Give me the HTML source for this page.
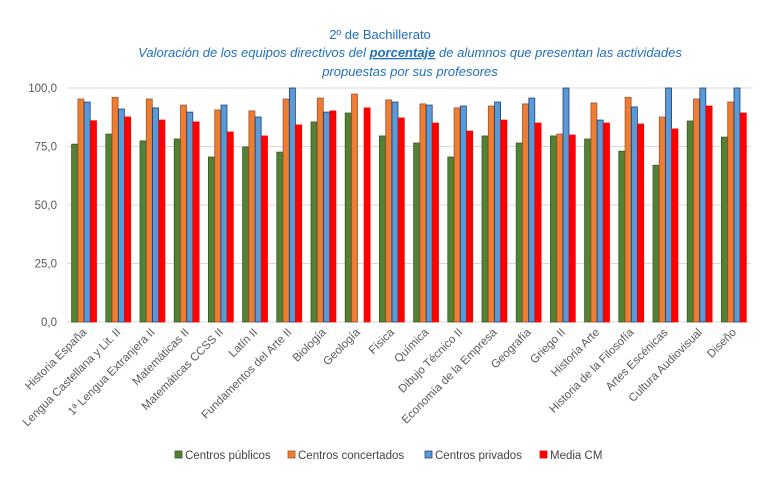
<!DOCTYPE html>
<html><head><meta charset="utf-8"><style>
body{margin:0;background:#fff;}
svg{font-family:"Liberation Sans",sans-serif;}
</style></head><body>
<svg id="chart" width="761" height="476">
<text x="380" y="39" text-anchor="middle" font-size="13" fill="#1f6fbf">2º de Bachillerato</text>
<text x="410" y="57" text-anchor="middle" font-size="13" font-style="italic" fill="#1f6fbf">Valoración de los equipos directivos del <tspan font-weight="bold" text-decoration="underline">porcentaje</tspan> de  alumnos que presentan las actividades</text>
<text x="410" y="76" text-anchor="middle" font-size="13" font-style="italic" fill="#1f6fbf">propuestas por sus profesores</text>
<g id="grid"></g><g id="bars"></g><g id="labels"></g>
<g id="legend" font-size="11.5" fill="#444"></g>
</svg>
<script>
const categories=["Historia España","Lengua Castellana y Lit. II","1ª Lengua Extranjera II","Matemáticas II","Matemáticas CCSS II","Latín II","Fundamentos del Arte II","Biología","Geología","Física","Química","Dibujo Técnico II","Economía de la Empresa","Geografía","Griego II","Historia Arte","Historia de la Filosofía","Artes Escénicas","Cultura Audiovisual","Diseño"];
const publicos=[76,80.3,77.4,78.2,70.5,74.8,72.6,85.5,89.3,79.5,76.5,70.5,79.5,76.5,79.5,78.2,73,67,85.9,79];
const concertados=[95.3,96,95.3,92.7,90.6,90.2,95.3,95.7,97.4,94.9,93.2,91.5,92.3,93.2,80.3,93.6,96,87.6,95.3,94];
const privados=[94,91,91.5,89.7,92.7,87.6,100,89.7,0,94,92.7,92.3,94,95.7,100,86.3,91.9,100,100,100];
const mediaCM=[86,87.6,86.3,85.5,81.2,79.5,84.2,90.2,91.5,87.2,85,81.6,86.3,85,79.9,85,84.6,82.5,92.3,89.3];
const yTicks=[0,25,50,75,100];
const yTickLabels=["0,0","25,0","50,0","75,0","100,0"];
const seriesNames=["Centros públicos","Centros concertados","Centros privados","Media CM"];
const NS="http://www.w3.org/2000/svg";
const x0=67,x1=751,yTop=88,yBot=322,ymax=100;
const n=categories.length,cw=(x1-x0)/n;
const ys=v=>yBot-(v/ymax)*(yBot-yTop);
const xc=i=>x0+cw*(i+0.5);
function mk(t,a,p){const e=document.createElementNS(NS,t);for(const k in a)e.setAttribute(k,a[k]);p.appendChild(e);return e;}
const grid=document.getElementById('grid');
yTicks.forEach((t,i)=>{
 const l=mk('line',{x1:x0,x2:x1,y1:ys(t),y2:ys(t),stroke:'#d9d9d9','stroke-width':1},grid);
 
 
 const tx=mk('text',{x:57,y:ys(t)+4,'text-anchor':'end','font-size':11.5,fill:'#595959'},grid);
 tx.textContent=yTickLabels[i];
 
 
});
const fills=["#548235","#ed7d31","#5b9bd5","#ff0000"],strokes=["#385723","#a0522d","#1f3f7f","#ff0000"];
const series=[publicos,concertados,privados,mediaCM];
const bars=document.getElementById('bars'),bw=6;
series.forEach((s,si)=>{s.forEach((v,i)=>{
 if(v<=0)return;
 const x=xc(i)-2*bw-0.5+si*(bw+0.3);
 const r=mk('rect',{x:x,y:ys(v),width:bw,height:yBot-ys(v),fill:fills[si],stroke:strokes[si],'stroke-width':0.8},bars);
 
 
});});
const labels=document.getElementById('labels');
categories.forEach((c,i)=>{
 const t=mk('text',{x:xc(i)+3,y:333,'text-anchor':'end','font-size':11.5,fill:'#595959',transform:'rotate(-45 '+(xc(i)+3)+' 333)'},labels);
 t.textContent=c;
 
 
});
const lg=document.getElementById('legend');
const lx=[175,288,425,540];
seriesNames.forEach((nm,i)=>{
 const r=mk('rect',{x:lx[i],y:451,width:7,height:7,fill:fills[i],stroke:strokes[i],'stroke-width':0.8},lg);
 
 
 const t=mk('text',{x:lx[i]+10,y:459},lg);
 t.textContent=nm;
 
 
});
</script>
</body></html>
